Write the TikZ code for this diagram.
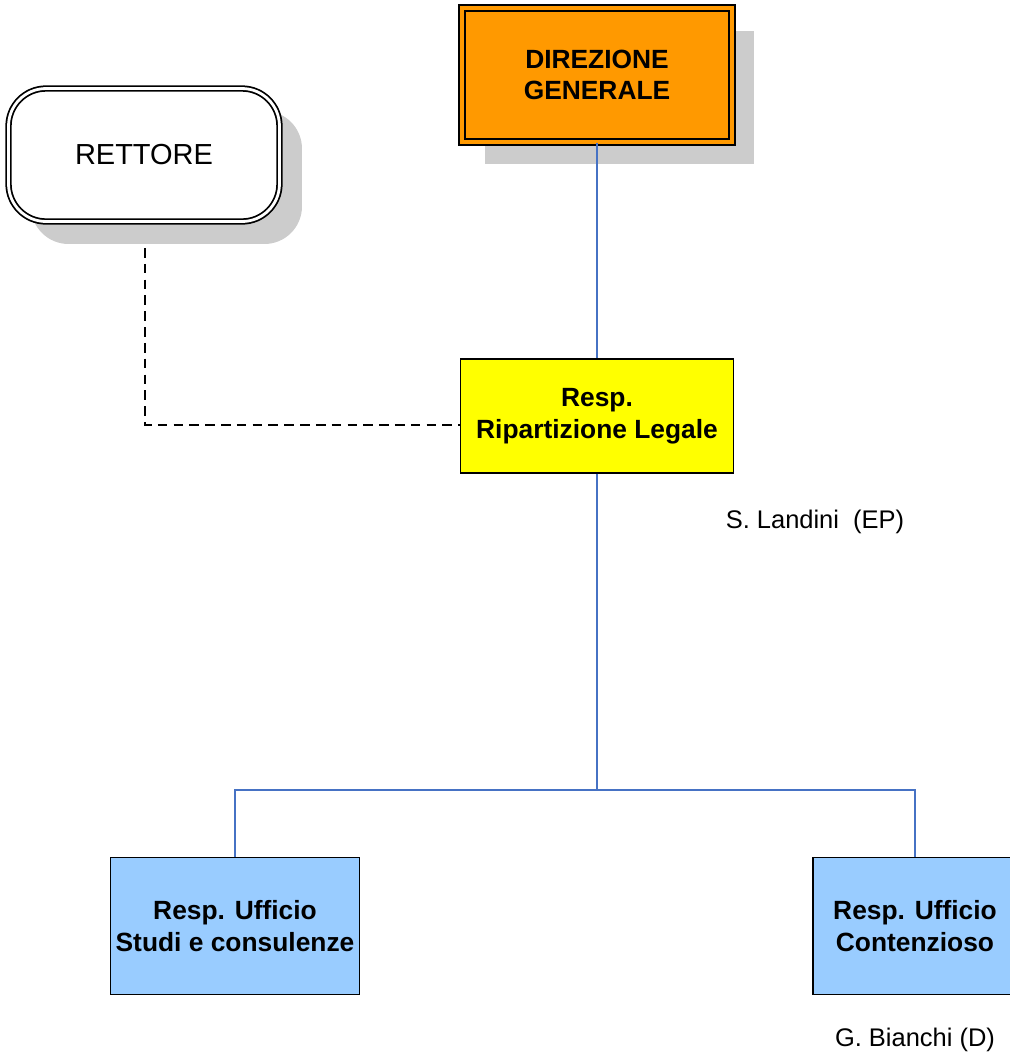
\documentclass[tikz,border=0pt]{standalone}
\usepackage{fontspec}
\setmainfont{Liberation Sans}
\usetikzlibrary{shadows}
\usetikzlibrary{positioning}

\definecolor{dirorange}{RGB}{255,153,0}
\definecolor{respyellow}{RGB}{255,255,0}
\definecolor{uffblue}{RGB}{153,204,255}
\definecolor{linkblue}{RGB}{70,114,196}

\begin{document}
\begin{tikzpicture}[x=0.02cm,y=-0.02cm,
    office/.style={draw, thick, align=center, font=\fontsize{15}{18}\selectfont\bfseries,
        inner sep=0pt},
    shade/.style={drop shadow={shadow xshift=0.45cm, shadow yshift=-0.45cm,
        fill=black!20, opacity=1}},
    link/.style={draw=linkblue, thick},
    person/.style={font=\fontsize{14.5}{17}\selectfont}]
    \useasboundingbox (0,0) rectangle (1009,1056);

    \node[draw, double, double distance=1.6pt, line width=1pt, rounded corners=0.75cm,
        shade, fill=white, minimum width=5.42cm, minimum height=2.66cm,
        font=\fontsize{16.5}{19}\selectfont] (rettore) at (144,155) {RETTORE};
    \node[office, double=dirorange, double distance=2.4pt, line width=0.9pt,
        fill=dirorange, shade, minimum width=5.4cm, minimum height=2.68cm] (direzione)
        at (597,75) {DIREZIONE\\GENERALE};
    \node[office, fill=respyellow, minimum width=5.46cm, minimum height=2.28cm]
        (ripartizione) at (597,416) {Resp.\\Ripartizione Legale};
    \node[office, fill=uffblue, minimum width=4.98cm, minimum height=2.74cm]
        (studi) at (235,926) {Resp. Ufficio\\Studi e consulenze};
    \node[office, fill=uffblue, minimum width=4.08cm, minimum height=2.74cm]
        (contenzioso) at (915,926) {Resp. Ufficio\\Contenzioso};

    \node[person] (landini) at (815,522) {S. Landini\ \ (EP)};
    \node[person] (bianchi) at (915,1040) {G. Bianchi (D)};

    % collegamenti
    \coordinate (rettfoot) at (145,248);
    \coordinate (fork) at (597,790);
    \draw[dash pattern=on 5.5pt off 3.5pt, thick] (rettfoot)
        |- ([yshift=-0.18cm]ripartizione.west);
    \draw[link] (direzione.south) -- (ripartizione.north);
    \draw[link] (ripartizione.south) -- (fork);
    \draw[link] (fork) -| (studi.north);
    \draw[link] (fork) -| (contenzioso.north);
\end{tikzpicture}
\end{document}
